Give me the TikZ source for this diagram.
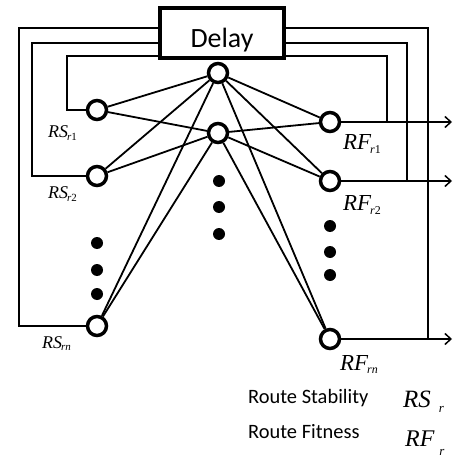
\documentclass[tikz,border=0pt]{standalone}
\usepackage{fontspec}
\setsansfont{Carlito}
\newfontfamily\tnr{Liberation Serif}
\usetikzlibrary{arrows.meta, calc}

% italic variable with a lowered index: size, index size, name, index
\newcommand{\varlbl}[4]{{\tnr\itshape\fontsize{#1}{#1}\selectfont #3\kern-1pt\raisebox{-0.35ex}{\fontsize{#2}{#2}\selectfont #4}}}

\begin{document}
\begin{tikzpicture}[
    x=1bp, y=-1bp,
    neuron/.style={circle, draw, line width=3.5bp, minimum size=19bp, inner sep=0pt, fill=white},
    blob/.style={circle, fill, minimum size=12bp, inner sep=0pt},
    link/.style={line width=1.8bp},
    fb/.style={line width=2.6bp},
    arr/.style={-{Straight Barb[length=6bp, width=11bp, line width=1.5bp]}, line width=2bp},
    lbl/.style={anchor=base west, inner sep=0pt},
    legend/.style={anchor=base west, inner sep=0pt, font=\sffamily\fontsize{20.5}{20.5}\selectfont}
]
\useasboundingbox (0,0) rectangle (453,457);

% delay unit
\node[draw, line width=4bp, minimum width=124bp, minimum height=50bp, inner sep=0pt] (delay) at (222,33) {};
\node[anchor=base, inner sep=0pt, font=\sffamily\fontsize{28}{28}\selectfont] (delaylbl) at (222,48) {Delay};

% hidden layer
\node[neuron] (h1) at (218,73) {};
\node[neuron] (h2) at (218,133) {};

% input (route stability) layer
\node[neuron] (s1) at (97,110) {};
\node[neuron] (s2) at (97,176) {};
\node[neuron] (sn) at (97,326) {};

% output (route fitness) layer
\node[neuron] (f1) at (330,122) {};
\node[neuron] (f2) at (330,181) {};
\node[neuron] (fn) at (330,339) {};

% dots
\node[blob] (ld1) at (97,243) {};
\node[blob] (ld2) at (97,270) {};
\node[blob] (ld3) at (97,294) {};
\node[blob] (md1) at (219,181) {};
\node[blob] (md2) at (219,207) {};
\node[blob] (md3) at (219,234) {};
\node[blob] (rd1) at (330,226) {};
\node[blob] (rd2) at (330,252) {};
\node[blob] (rd3) at (330,275) {};

% full connections
\foreach \a in {s1,s2,sn,f1,f2,fn}
  \foreach \b in {h1,h2}
    \draw[link] (\a) -- (\b);

% outputs
\coordinate (o1) at (452,122);
\coordinate (o2) at (452,181);
\coordinate (o3) at (452,339);
\draw[arr] (f1) -- (o1);
\draw[arr] (f2) -- (o2);
\draw[arr] (fn) -- (o3);

% feedback through the delay
\coordinate (j1) at (387,122);
\coordinate (j2) at (407,181);
\coordinate (j3) at (428,339);
\coordinate (k1) at (67,110);
\coordinate (k2) at (32,176);
\coordinate (k3) at (19,326);
\draw[fb] (j1) |- ([yshift=-23bp]delay.east);
\draw[fb] (j2) |- ([yshift=-10bp]delay.east);
\draw[fb] (j3) |- ([yshift=5bp]delay.east);
\draw[fb] (s1) -- (k1) |- ([yshift=-23bp]delay.west);
\draw[fb] (s2) -- (k2) |- ([yshift=-10bp]delay.west);
\draw[fb] (sn) -- (k3) |- ([yshift=5bp]delay.west);

% labels
\node[lbl] (ls1) at (48,138) {\varlbl{18}{11}{RS}{r\textup{1}}};
\node[lbl] (ls2) at (48,199) {\varlbl{18}{11}{RS}{r\textup{2}}};
\node[lbl] (lsn) at (42,348) {\varlbl{18}{11}{RS}{rn}};
\node[lbl] (lf1) at (343,150) {\varlbl{23}{12}{RF}{r\textup{1}}};
\node[lbl] (lf2) at (343,211) {\varlbl{23}{12}{RF}{r\textup{2}}};
\node[lbl] (lfn) at (340,370) {\varlbl{23}{12}{RF}{rn}};

% legend
\node[legend] (stab) at (248,403) {Route Stability};
\node[lbl] (stabsym) at (403,407) {{\tnr\itshape\fontsize{25}{25}\selectfont RS\kern8pt\raisebox{-5bp}{\fontsize{13}{13}\selectfont r}}};
\node[legend] (fit) at (248,438) {Route Fitness};
\node[lbl] (fitsym) at (405,446) {{\tnr\itshape\fontsize{24}{24}\selectfont RF\kern5pt\raisebox{-9bp}{\fontsize{13}{13}\selectfont r}}};
\end{tikzpicture}
\end{document}
